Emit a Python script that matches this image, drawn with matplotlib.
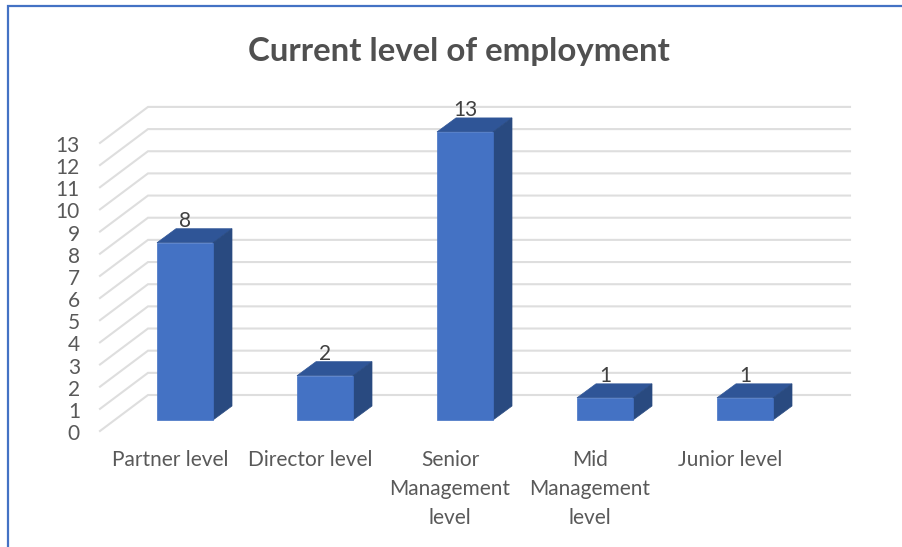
import numpy as np
import matplotlib.pyplot as plt
from matplotlib.patches import Polygon, Rectangle

categories = ['Partner level', 'Director level', 'Senior\nManagement\nlevel', 'Mid\nManagement\nlevel', 'Junior level']
values = [8, 2, 13, 1, 1]
y_ticks = list(range(0, 14))
title = 'Current level of employment'

BLUE_FRONT = '#4472C4'
BLUE_TOP = '#2F5597'
BLUE_SIDE = '#294A80'
GRID = '#DEDEDE'
TEXT = '#595959'

W, H = 902, 547
UNIT_X = 140.0   # pixels between categories
UNIT_Y = 22.16   # pixels per value
X0, Y0 = 185.0, 420.0   # pixel position of first bar centre, bar base

plt.rcParams['font.family'] = ['Lato', 'DejaVu Sans']

fig = plt.figure(figsize=(W / 100, H / 100), dpi=100, facecolor='white')
ax = fig.add_axes([0, 0, 1, 1])
ax.set_xlim(-X0 / UNIT_X, (W - X0) / UNIT_X)
ax.set_ylim((Y0 - H) / UNIT_Y, Y0 / UNIT_Y)
ax.axis('off')

# frame round the chart area, only left and top fall inside the figure
fig.add_artist(Rectangle((8 / W, -0.1), 1, 0.1 + 1 - 6 / H, transform=fig.transFigure,
                         facecolor='none', edgecolor=BLUE_FRONT, linewidth=1.6))

# gridlines: slanted piece on the side wall, then straight along the back wall
left_front = -85 / UNIT_X
left_back = -37 / UNIT_X
right_back = 665 / UNIT_X
front_dy = -11 / UNIT_Y
back_dy = 25 / UNIT_Y
for v in y_ticks:
    ax.plot([left_front, left_back, right_back],
            [v + front_dy, v + back_dy, v + back_dy],
            color=GRID, linewidth=1.5, solid_joinstyle='miter', zorder=1)
    ax.text(-105 / UNIT_X, v + front_dy - 3 / UNIT_Y, str(v), ha='right', va='center',
            fontsize=15, color=TEXT)

# 3D looking columns: front, top and side faces
half = 28 / UNIT_X
dx = 19 / UNIT_X
dy = 14 / UNIT_Y
for i, v in enumerate(values):
    ax.add_patch(Polygon([(i - half, v), (i + half, v), (i + half + dx, v + dy), (i - half + dx, v + dy)],
                         facecolor=BLUE_TOP, edgecolor=BLUE_TOP, linewidth=0.5, zorder=3))
    ax.add_patch(Polygon([(i + half, 0), (i + half + dx, dy), (i + half + dx, v + dy), (i + half, v)],
                         facecolor=BLUE_SIDE, edgecolor=BLUE_SIDE, linewidth=0.5, zorder=3))
    ax.add_patch(Rectangle((i - half, 0), 2 * half, v,
                           facecolor=BLUE_FRONT, edgecolor=BLUE_FRONT, linewidth=0.5, zorder=4))
    ax.text(i, v + dy + 8 / UNIT_Y, str(v), ha='center', va='center',
            fontsize=15, color='#404040', zorder=5)

# category labels sit left of the bar centres
for i, label in enumerate(categories):
    ax.text(i - 15 / UNIT_X, -30 / UNIT_Y, label, ha='center', va='top',
            fontsize=15, color=TEXT, linespacing=1.56)

ax.text((459 - X0) / UNIT_X, (Y0 - 51) / UNIT_Y, title, ha='center', va='center',
        fontsize=23.8, fontweight='bold', color='#505050')

fig.savefig('out.png', dpi=100)
